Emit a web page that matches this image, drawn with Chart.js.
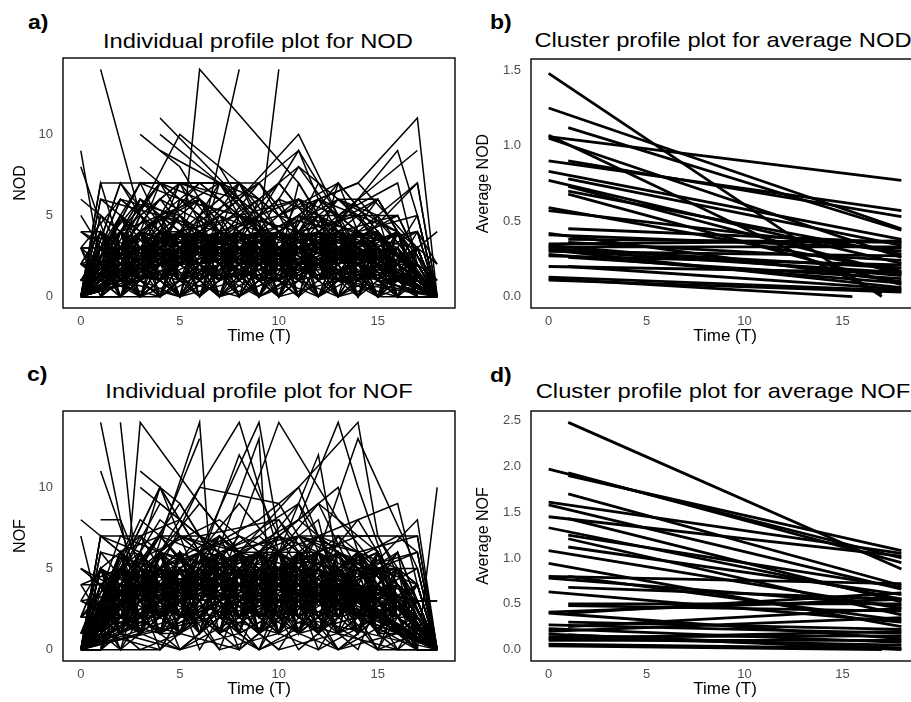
<!DOCTYPE html>
<html><head><meta charset="utf-8">
<script src="https://cdn.jsdelivr.net/npm/chart.js@4/dist/chart.umd.min.js"></script>
<style>
html,body{margin:0;padding:0;background:#fff;width:911px;height:702px;overflow:hidden;position:relative;font-family:"Liberation Sans",Arial,sans-serif;}
canvas{position:absolute;}
.lab{position:absolute;font-weight:bold;font-size:20px;line-height:20px;transform:scaleX(1.15);transform-origin:left top;color:#000;}
.ttl{position:absolute;width:600px;text-align:center;font-size:21px;line-height:21px;transform:scaleX(1.13);color:#000;white-space:nowrap;}
</style></head>
<body>
<div class="lab" style="left:28px;top:12px;">a)</div>
<div class="lab" style="left:490px;top:12px;">b)</div>
<div class="lab" style="left:27px;top:364px;">c)</div>
<div class="lab" style="left:490px;top:365px;">d)</div>
<div class="ttl" style="left:-42px;top:30px;">Individual profile plot for NOD</div>
<div class="ttl" style="left:423px;top:29px;">Cluster profile plot for average NOD</div>
<div class="ttl" style="left:-41px;top:380px;">Individual profile plot for NOF</div>
<div class="ttl" style="left:423px;top:380px;">Cluster profile plot for average NOF</div>
<canvas id="ca" width="458" height="347" style="left:0;top:0;"></canvas>
<canvas id="cb" width="470" height="347" style="left:455px;top:0;"></canvas>
<canvas id="cc" width="458" height="350" style="left:0;top:350px;"></canvas>
<canvas id="cd" width="470" height="350" style="left:455px;top:350px;"></canvas>
<script>
// ---- tick values and labels ----
const timeTicks = [0, 5, 10, 15];
const timeTickLabels = ['0', '5', '10', '15'];
const countTicks = [0, 5, 10];
const countTickLabels = ['0', '5', '10'];
const avgNodTicks = [0, 0.5, 1, 1.5];
const avgNodTickLabels = ['0.0', '0.5', '1.0', '1.5'];
const avgNofTicks = [0, 0.5, 1, 1.5, 2, 2.5];
const avgNofTickLabels = ['0.0', '0.5', '1.0', '1.5', '2.0', '2.5'];

// visit times for the fully sampled profiles below
const denseTimes = [0,1,2,3,4,5,6,7,8,9,10,11,12,13,14,15,16,17,18];

// ---- individual NOD profiles (irregular visits): flat [time, value, time, value, ...] ----
const nodProfiles = [
[0,0,2,3,4,5,7,2,10,4,13,1,18,0],
[0,9,1,2,3,4,6,3,9,5,12,2,18,0],
[0,8,2,1,5,4,8,3,11,2,15,3,18,0],
[1,14,3,5,6,2,9,3,14,1,18,0],
[0,0,1,7,9,7,11,3,15,2,18,0],
[0,4,1,4,3,2,5,5,8,2,12,3,18,0],
[0,3,1,0,4,3,7,1,10,2,16,1,18,0],
[3,10,5,8,7,4,10,2,13,5,18,0],
[4,11,8,6,10,3,12,4,16,2,18,0],
[0,0,5,2,6,14,11,7,13,3,18,0],
[0,0,2,2,6,3,8,14],
[0,0,4,3,7,5,9,4,10,14],
[0,6,2,4,4,7,6,3,9,2,12,4,18,0],
[0,5,1,3,3,6,5,4,8,5,11,3,14,2,18,0],
[0,2,1,1,2,5,4,3,7,6,10,2,13,3,18,0],
[0,1,2,4,3,1,6,4,9,1,12,5,15,2,18,0],
[0,0,1,3,3,7,5,2,8,4,11,1,14,4,18,0],
[0,0,2,6,5,3,7,7,10,3,12,2,16,3,18,0],
[0,0,3,4,4,7,6,5,9,2,13,4,17,3,18,0],
[0,0,1,5,4,2,5,6,8,3,11,5,14,3,18,0],
[3,8,5,6,8,5,11,4,13,7,15,4,18,0],
[4,10,6,8,9,5,11,9,12,6,15,3,18,0],
[4,9,7,7,9,6,12,3,16,9,17,5,18,0],
[0,0,2,3,5,10,7,8,10,5,14,7,17,11,18,0],
[5,7,8,6,11,10,13,5,15,7,17,9],
[0,0,2,2,4,1,6,3,8,2,10,3,12,1,14,2,16,1,18,0],
[0,0,1,2,3,3,5,1,7,4,9,2,11,3,13,1,15,2,18,0],
[0,0,2,1,4,4,6,2,8,5,10,1,12,2,14,3,17,1,18,0],
[0,0,1,1,3,2,5,5,7,2,9,3,11,2,13,4,16,2,18,0],
[0,0,2,4,4,2,6,6,8,1,10,4,12,3,15,1,18,0],
[0,0,3,1,5,3,7,1,9,6,11,2,13,3,15,5,18,0],
[0,0,1,4,2,2,4,5,6,1,9,3,12,6,14,2,18,0],
[1,0,3,5,5,2,8,7,10,2,12,4,16,2,18,4],
[0,0,2,5,3,2,6,4,9,1,11,6,13,2,17,7,18,0],
[0,0,4,6,6,3,7,7,9,3,11,5,14,4,17,5,18,0],
[0,0,2,7,4,4,6,2,8,4,10,6,12,1,15,6,18,0],
[0,3,2,6,5,5,7,3,10,7,12,4,15,2,18,0],
[0,0,3,3,5,7,7,2,9,5,11,3,13,6,16,4,18,2],
[0,0,1,6,3,4,6,6,8,3,11,4,14,5,18,0],
[0,0,2,3,4,6,7,4,10,1,13,3,16,5,18,0],
[1,3,3,1,5,5,7,3,9,4,11,2,14,6,17,2,18,1],
[0,0,3,6,5,4,8,2,10,6,12,5,15,1,18,0],
[0,0,4,4,6,6,8,4,10,2,12,7,14,3,18,0],
[0,0,3,3,6,7,8,5,11,4,13,2,16,4,18,0],
[0,0,1,7,2,3,4,2,7,4,10,3,13,6,18,0],
[0,0,2,3,3,6,5,3,7,4,9,7,11,4,14,3,18,0],
[2,0,4,3,6,2,8,5,10,3,12,6,14,4,16,3,18,0],
[0,0,2,5,4,2,7,3,9,5,11,6,13,3,17,4,18,2],
[0,0,3,2,4,5,6,4,8,6,10,2,11,7,13,3,18,0],
[0,0,1,3,2,6,4,4,7,2,9,4,11,3,15,4,18,0],
[0,0,4,5,5,3,7,4,8,7,10,4,12,3,13,7,15,4,18,0],
[0,0,3,6,6,4,9,7,11,4,14,5,16,1,18,0],
[0,0,2,7,3,5,5,7,7,4,9,5,12,2,15,4,18,0],
[1,0,2,4,4,7,6,5,8,7,10,3,12,5,17,2,18,0],
[0,0,1,6,4,5,7,4,10,5,13,4,15,6,18,0],
[0,0,3,7,5,6,6,7,8,5,11,6,13,4,16,5,18,0],
[0,0,1,3,5,7,7,7,9,4,12,5,15,2,18,0],
[0,0,2,4,6,6,8,4,10,6,11,8,14,3,18,0],
[0,0,4,7,6,6,8,3,10,2,12,6,16,4,18,1],
[7,8,9,4,11,6,13,5,16,7,17,2,18,0],
[0,0,9,7,11,9,12,7,14,5,18,0],
[0,0,5,3,9,6,11,8,13,6,15,6,18,0],
[0,0,3,7,8,7,10,5,13,7,14,4,18,0],
[0,0,6,3,10,4,13,6,15,5,17,7,18,0],
[0,0,3,4,7,7,10,4,12,6,14,7,17,3,18,0],
[0,0,2,3,5,6,8,5,10,7,12,4,15,6,18,0],
[0,0,4,4,5,7,7,6,10,3,12,5,16,5,18,0],
[2,0,4,2,5,6,8,3,10,4,12,2,16,4,18,0],
[0,0,3,2,5,4,6,1,9,3,10,0,12,4,15,1,18,0],
[0,1,2,4,5,0,7,3,8,1,11,4,13,0,16,3,18,0],
[0,0,1,3,4,1,6,4,9,0,11,3,14,1,15,4,18,0],
[0,2,3,0,4,4,7,1,10,3,12,1,13,4,17,0,18,0],
[0,0,2,0,5,3,8,4,9,1,12,3,14,0,16,4,18,0],
[0,3,1,1,3,4,6,0,8,3,11,1,13,3,16,0,18,0],
[0,0,4,4,5,1,8,2,10,4,13,3,15,0,17,3,18,0],
[0,1,3,3,6,2,7,4,9,2,10,4,14,2,16,1,18,0],
[0,0,2,3,3,0,6,3,9,4,12,0,14,3,17,1,18,0],
[0,2,1,4,4,2,5,4,8,0,11,2,12,4,15,3,18,0],
[0,0,1,1,5,4,7,0,10,2,11,4,14,2,17,4,18,0],
[0,4,2,2,4,0,7,2,8,4,10,2,13,1,16,2,18,0],
[0,0,3,4,4,2,6,3,9,1,12,2,15,4,16,0,18,0],
[0,1,2,2,5,2,6,4,8,2,11,3,13,4,17,2,18,0],
[0,0,1,4,3,2,7,3,10,1,12,3,14,4,16,2,18,0],
[0,3,3,3,5,0,8,3,9,2,11,0,14,3,15,2,18,0],
[0,0,2,4,4,3,6,2,8,4,10,3,13,2,16,3,18,0],
[0,2,4,1,5,3,7,4,9,0,13,3,14,1,17,2,18,0],
[0,0,1,2,2,4,5,1,7,3,10,2,12,4,15,1,18,0],
[0,1,3,4,6,3,8,1,11,4,12,2,15,3,16,4,18,0],
[0,0,4,3,6,1,7,3,9,4,11,1,13,3,17,1,18,0],
[0,3,2,1,3,3,5,2,8,3,10,4,12,1,14,2,18,0],
[0,0,2,2,4,4,7,2,9,3,12,2,13,4,16,1,18,0],
[0,1,1,3,4,0,6,2,10,3,11,1,14,4,15,2,18,0],
[0,0,3,1,5,2,6,3,8,4,9,2,13,2,15,3,18,0],
[0,2,2,3,4,3,5,1,7,2,10,3,12,2,14,4,18,0],
[0,0,1,4,2,1,6,3,8,2,11,3,13,1,16,4,18,0],
[0,4,3,2,6,4,8,3,10,1,12,3,15,2,17,1,18,0],
[0,0,2,1,3,4,5,3,9,2,11,4,14,3,16,2,18,0],
[0,1,4,2,6,3,7,1,9,4,12,1,13,3,17,2,18,0],
[0,0,3,3,4,4,8,3,10,2,11,3,15,4,16,1,18,0],
[0,2,1,2,5,4,7,3,9,3,12,4,14,1,17,3,18,0],
[0,0,2,4,3,3,6,4,7,2,10,4,13,2,15,3,18,0],
[0,3,4,3,5,2,8,4,11,2,13,3,14,2,16,3,18,0],
[0,0,1,1,4,3,6,2,9,4,10,1,12,3,17,2,18,0],
[0,1,2,3,5,2,7,4,8,3,11,4,14,2,15,4,18,0],
[0,0,3,2,6,4,9,1,10,3,13,4,16,2,17,3,18,0],
[0,2,1,4,3,1,4,3,7,4,9,2,12,2,15,3,18,0],
[0,0,2,2,5,3,8,3,11,3,12,1,14,3,16,2,18,0],
[0,1,3,1,4,2,6,4,8,2,10,3,13,3,17,4,18,0]
];

// ---- NOD profiles visited at times in denseTimes (null = no visit) ----
const nodDenseProfiles = [
[0,2,0,3,1,0,2,4,1,0,3,2,0,1,3,0,2,1,0],
[0,1,3,2,0,4,1,3,2,1,0,2,4,1,0,3,1,2,0],
[0,3,1,0,2,3,4,2,0,1,2,3,1,4,2,0,1,3,0],
[0,0,2,4,3,1,2,0,3,4,1,2,3,0,1,2,4,0,0],
[0,2,4,1,0,3,2,1,4,2,3,0,2,1,3,1,0,2,0],
[0,1,0,2,4,2,3,4,1,3,0,4,1,2,0,2,3,1,0],
[0,4,2,3,1,4,0,2,3,0,2,1,3,2,4,1,2,0,0],
[0,0,1,3,2,0,4,3,2,4,1,3,0,3,2,4,1,1,0],
[0,3,2,0,3,2,1,0,4,1,2,4,2,0,1,3,0,2,0],
[0,1,4,2,1,3,2,3,0,2,4,1,3,4,0,2,2,0,0],
[0,2,1,4,0,1,3,1,2,3,1,0,4,2,3,0,3,1,0],
[0,0,3,1,4,2,4,2,3,0,3,2,1,3,2,1,0,3,0],
[0,2,0,2,3,4,1,0,1,2,4,3,0,1,4,2,1,0,0],
[0,1,2,0,2,1,0,4,3,1,2,0,2,4,1,3,2,2,0],
[0,3,4,3,0,2,3,1,4,2,0,1,3,0,2,1,4,0,0],
[0,0,1,4,2,3,0,3,1,4,3,2,1,2,0,4,1,1,0],
[0,4,0,1,3,0,2,4,2,1,1,4,2,3,1,0,2,3,0],
[0,1,3,2,4,1,4,0,3,3,2,0,4,1,3,2,0,1,0],
[0,2,2,0,1,4,1,2,0,4,0,3,2,0,4,1,3,0,0],
[0,0,4,3,2,2,3,3,4,0,2,1,0,3,1,3,1,2,0],
[0,3,1,1,0,3,0,1,2,2,4,2,3,2,0,2,4,1,0],
[0,1,0,4,3,0,4,2,1,3,1,4,1,4,2,0,2,0,0],
[0,2,3,2,1,2,2,4,3,0,3,0,2,1,3,4,0,3,0],
[0,0,2,1,4,4,1,3,0,2,2,3,4,0,1,2,3,1,0],
[0,4,1,3,2,1,3,0,2,1,0,2,0,2,4,1,1,2,0],
[0,1,4,0,0,3,2,1,4,3,4,1,3,3,0,3,2,0,0],
[0,3,0,2,3,2,4,2,1,2,1,3,1,0,2,0,4,1,0],
[0,2,2,4,1,0,1,4,3,4,2,0,2,4,3,2,0,2,0],
[0,0,3,3,4,1,0,1,2,0,3,4,0,1,1,4,2,0,0],
[0,1,1,0,2,4,3,3,0,1,0,2,4,2,0,1,3,1,0],
[0,2,5,3,1,4,2,5,3,1,4,0,2,5,1,3,2,4,0],
[0,4,2,5,3,0,5,2,4,3,1,5,3,1,4,2,0,3,0],
[0,1,3,4,5,2,3,1,5,4,2,3,5,2,3,5,1,2,0],
[0,5,3,1,4,3,1,4,2,5,3,1,4,3,2,1,3,5,0],
[0,null,3,null,1,null,4,null,2,null,3,null,1,null,4,null,2,null,0],
[0,2,null,4,null,1,null,3,null,0,null,4,null,2,null,3,null,1,0],
[0,null,null,2,null,null,4,null,null,1,null,null,3,null,null,4,null,null,0],
[0,null,1,null,3,null,0,null,4,null,2,null,4,null,1,null,3,null,0],
[0,3,null,0,null,2,null,4,null,3,null,1,null,3,null,0,null,2,0],
[0,null,2,null,null,4,null,null,1,null,null,3,null,null,2,null,null,1,0],
[0,1,null,null,3,null,null,0,null,null,4,null,null,2,null,null,4,null,0],
[0,null,4,null,2,null,1,null,3,null,0,null,2,null,4,null,1,null,0],
[0,2,null,3,null,4,null,1,null,2,null,0,null,4,null,1,null,3,0],
[0,null,0,null,4,null,3,null,0,null,4,null,1,null,2,null,3,null,0],
[0,null,1,null,null,0,null,2,null,null,1,null,0,null,null,2,null,1,0],
[0,null,null,1,null,0,null,null,2,null,0,null,null,1,null,2,null,null,0],
[0,1,null,null,0,null,2,null,null,0,null,1,null,null,2,null,null,0,0],
[0,null,2,null,null,1,null,null,0,null,2,null,null,1,null,null,0,null,0],
[0,null,null,0,null,1,null,null,3,null,null,1,null,0,null,null,2,null,0],
[0,2,null,null,1,null,null,3,null,0,null,null,2,null,null,0,null,1,0],
[0,null,1,null,null,3,null,0,null,null,1,null,null,3,null,0,null,null,0],
[0,null,null,2,null,0,null,null,1,null,null,3,null,0,null,null,1,null,0]
];

// ---- individual NOF profiles (irregular visits): flat [time, value, time, value, ...] ----
const nofProfiles = [
[0,8,2,6,4,3,7,5,10,2,14,4,18,0],
[0,7,1,2,3,5,6,4,9,6,12,3,18,0],
[0,5,1,4,3,6,5,2,8,5,11,3,15,2,18,0],
[0,4,2,5,4,2,7,6,9,3,13,5,18,0],
[0,3,1,5,3,3,6,6,8,2,11,4,16,3,18,0],
[0,2,1,2,3,4,5,6,8,4,10,5,14,2,18,0],
[1,8,2,8,3,5,5,3,8,2,12,4,18,0],
[1,14,2.5,5,5,3,8,6,11,2,18,0],
[1,11,3,4,6,2,9,5,13,3,18,0],
[2,14,2.7,6,5,4,7,7,10,3,14,4,18,0],
[0,0,2.5,7,3,14,6,9,8,6,11,5,14,2,18,0],
[3,11,5,9,7,5,10,6,12,3,16,2,18,0],
[3,10,5,8,7,4,9,6,13,5,18,0],
[0,0,2,3,4,7,6,13],
[0,0,3,3,6,14,6.5,6,9,4,12,6,18,0],
[0,0,2,3,4,6,8,14,10,6,11,4,18,0],
[0,0,4,4,6,6,9,14,10,7,13,4,18,0],
[0,0,5,2,8,12,10,7,12,5,15,3,18,0],
[0,0,6,3,9,13,9.5,4,11,5,18,0],
[3,2,7,4,10,14,13,8,15,5,18,0],
[0,0,4,5,6,10,10,9,12,5,16,2,18,0],
[0,0,4,10,5,8,7,6,9,3,12,12,13,5,18,0],
[0,0,11,8,13,14,14,10,16,3,18,0],
[0,0,8,6,11,10,14,14,15,7,17,3,18,0],
[0,0,7,4,10,7,13,10,14,6,17,7,18,0],
[0,0,6,5,11,9,12,6,14,13,17,5,18,0],
[0,0,9,3,12,7,16,9,17,4,18,0],
[0,0,10,3,13,5,17,0,18,10],
[0,0,4,5,7,4,10,6,12,8,13,3,17,8,18,0],
[0,0,5,7,7,6,11,7,15,7,18,0],
[0,0,3,8,4,7,6,4,8,5,11,3,14,6,18,0],
[0,0,4,10,6,4,8,7,10,5,12,7,14,2,18,0],
[0,0,2,4,4,8,6,6,8,9,10,6,12,9,14,4,18,0],
[0,0,1,7,3,6,5,3,7,7,9,5,11,7,13,6,16,4,18,0],
[0,0,3,7,5,5,7,7,9,5,11,7,13,4,16,5,18,0],
[0,0,2,6,4,7,6,6,8,7,10,6,12,7,14,6,18,0],
[0,0,1,7,3,5,5,7,7,6,9,7,11,5,13,7,15,5,18,0],
[0,0,4,7,6,7,8,6,10,7,12,6,14,7,17,7,18,0],
[0,0,2,4,5,2,8,4,10,2,13,4,17,3,18,3],
[1,0,2,5,4,4,6,7,8,5,10,4,12,7,14,5,17,5,18,0],
[0,0,1,3,4,4,7,4,9,5,12,3,14,3,18,3],
[0,0,6,9,8,6,10,8,12,4,16,5,18,0],
[0,0,5,9,7,5,9,6,11,9,14,3,18,0],
[0,0,3,6,4,10,6,6,9,8,11,10,13,4,18,0],
[0,0,2,5,7,8,9,6,12,9,15,6,18,0],
[0,0,4,9,6,7,10,8,12,5,14,8,16,4,18,0],
[0,0,1,5,3,7,5,8,8,5,11,8,13,6,17,4,18,0],
[0,0,2,6,5,3,6,6,9,4,10,7,12,5,13,7,15,3,18,0],
[0,0,3,5,4,7,6,4,7,7,9,5,11,5,12,7,14,5,18,0],
[0,0,1,7,3,7,4,5,6,6,10,5,11,7,14,5,17,6,18,0],
[0,0,4,6,5,7,8,6,10,6,12,6,13,5,16,7,17,6,18,0],
[0,0,2,4,4,7,7,3,9,6,11,4,14,4,18,0],
[0,0,3,5,5,7,8,4,10,7,12,3,16,6,18,0],
[0,0,1,6,4,5,7,7,9,2,12,4,15,6,18,0],
[0,0,2,7,4,6,7,5,9,6,11,7,14,6,16,5,18,0],
[0,0,3,4,5,6,6,2,9,5,10,1,12,6,15,2,18,0],
[0,2,2,5,5,1,7,4,8,2,11,6,13,1,16,4,18,0],
[0,0,1,4,4,2,6,6,9,1,11,4,14,2,15,6,18,0],
[0,3,3,1,4,6,7,2,10,4,12,2,13,5,17,1,18,0],
[0,0,2,1,5,4,8,6,9,2,12,4,14,1,16,5,18,0],
[0,4,1,2,3,5,6,1,8,4,11,2,13,4,16,1,18,0],
[0,0,4,5,5,2,8,3,10,6,13,4,15,1,17,4,18,0],
[0,1,3,4,6,3,7,6,9,3,10,5,14,3,16,2,18,0],
[0,0,2,4,3,1,6,4,9,6,12,1,14,4,17,2,18,0],
[0,2,1,5,4,3,5,6,8,1,11,3,12,6,15,4,18,0],
[0,0,1,2,5,5,7,1,10,3,11,6,14,3,17,5,18,0],
[0,5,2,3,4,1,7,3,8,6,10,3,13,2,16,3,18,0],
[0,0,3,6,4,3,6,4,9,2,12,3,15,5,16,1,18,0],
[0,1,2,3,5,3,6,5,8,3,11,4,13,6,17,3,18,0],
[0,0,1,6,3,3,7,4,10,2,12,4,14,5,16,3,18,0],
[0,4,3,4,5,1,8,4,9,3,11,1,14,4,15,3,18,0],
[0,0,2,5,4,4,6,3,8,6,10,4,13,3,16,4,18,0],
[0,2,4,2,5,4,7,5,9,1,13,4,14,2,17,3,18,0],
[0,0,1,3,2,5,5,2,7,4,10,3,12,6,15,2,18,0],
[0,1,3,5,6,4,8,2,11,5,12,3,15,4,16,5,18,0],
[0,0,4,4,6,2,7,4,9,6,11,2,13,4,17,2,18,0],
[0,3,2,2,3,4,5,3,8,4,10,6,12,2,14,3,18,0],
[0,0,2,3,4,5,7,3,9,4,12,3,13,5,16,2,18,0],
[0,1,1,4,4,1,6,3,10,4,11,2,14,6,15,3,18,0],
[0,0,3,2,5,3,6,4,8,5,9,3,13,3,15,4,18,0],
[0,2,2,4,4,4,5,2,7,3,10,4,12,3,14,5,18,0],
[0,0,1,5,2,2,6,4,8,3,11,4,13,2,16,6,18,0],
[0,5,3,3,6,5,8,4,10,2,12,4,15,3,17,2,18,0],
[0,0,2,2,3,5,5,4,9,3,11,6,14,4,16,3,18,0],
[0,1,4,3,6,4,7,2,9,6,12,2,13,4,17,3,18,0],
[0,0,3,4,4,6,8,4,10,3,11,4,15,6,16,2,18,0],
[0,2,1,3,5,5,7,4,9,4,12,5,14,2,17,4,18,0],
[0,0,2,5,3,4,6,6,7,3,10,5,13,3,15,4,18,0],
[0,3,4,4,5,3,8,5,11,3,13,4,14,3,16,4,18,0],
[0,0,1,2,4,4,6,3,9,6,10,2,12,4,17,3,18,0],
[0,1,2,4,5,3,7,6,8,4,11,5,14,3,15,6,18,0],
[0,0,3,3,6,6,9,2,10,4,13,6,16,3,17,4,18,0],
[0,2,1,5,3,2,4,4,7,5,9,3,12,3,15,4,18,0],
[0,0,2,3,5,4,8,4,11,4,12,2,14,4,16,3,18,0],
[0,1,3,2,4,3,6,5,8,3,10,4,13,4,17,6,18,0]
];

// ---- NOF profiles visited at times in denseTimes (null = no visit) ----
const nofDenseProfiles = [
[0,2,4,3,5,1,4,6,2,3,5,1,4,2,6,3,1,2,0],
[0,4,1,5,2,6,3,1,5,4,2,6,3,5,1,4,2,3,0],
[0,1,3,6,4,2,5,3,6,1,4,3,5,2,4,6,3,1,0],
[0,3,5,2,1,4,6,2,3,5,6,2,1,4,3,2,5,4,0],
[0,5,2,4,6,3,1,5,4,2,3,5,6,3,2,5,1,2,0],
[0,2,6,1,3,5,4,3,1,6,2,4,3,6,5,1,4,3,0],
[0,1,4,5,2,6,2,5,4,3,1,5,2,1,6,3,2,1,0],
[0,3,2,3,5,1,5,4,6,2,5,1,4,5,2,4,6,0,0],
[0,4,5,2,4,3,6,1,3,5,4,6,2,3,4,1,3,2,0],
[0,0,3,4,1,5,3,6,2,4,6,3,5,4,1,5,2,4,0],
[0,2,1,5,3,4,2,4,5,1,3,2,6,2,5,3,4,1,0],
[0,5,4,1,6,2,5,3,1,6,4,5,1,3,6,2,1,3,0],
[0,1,5,3,2,4,1,6,3,2,5,4,3,6,1,4,5,2,0],
[0,3,3,6,4,1,4,2,5,4,1,3,5,2,4,6,2,0,0],
[0,2,6,2,5,3,6,4,2,5,3,6,4,1,3,2,4,3,0],
[0,4,2,4,1,6,3,5,4,1,6,2,1,5,2,5,3,1,0],
[0,1,4,2,6,4,2,1,6,3,2,5,6,4,5,3,1,2,0],
[0,3,1,5,3,2,5,6,1,5,4,1,2,3,6,1,5,4,0],
[0,0,5,3,4,5,1,3,5,2,6,4,5,1,2,4,2,1,0],
[0,2,3,1,5,3,4,2,4,6,1,3,4,5,3,5,3,2,0],
[0,5,1,4,2,4,6,5,3,1,5,2,3,6,4,2,1,3,0],
[0,1,2,6,3,1,3,4,6,4,3,6,1,2,5,3,4,1,0],
[0,3,6,3,1,5,2,1,2,5,2,3,6,4,2,6,2,2,0],
[0,4,4,2,6,2,5,3,4,3,5,1,4,3,1,4,5,0,0],
[0,2,0,4,3,6,4,6,2,1,4,5,2,5,4,2,3,1,0],
[0,1,3,5,1,3,1,2,5,6,3,4,6,2,3,1,1,2,0],
[0,3,5,1,4,4,6,5,3,2,6,2,3,1,6,5,2,3,0],
[0,0,2,3,6,2,3,4,1,4,1,6,4,5,2,3,4,1,0],
[0,4,1,2,3,5,2,1,6,5,2,3,5,4,4,2,1,2,0],
[0,2,4,6,2,1,5,6,4,3,5,4,1,6,3,4,2,0,0],
[0,1,6,4,5,3,1,3,2,6,4,2,5,3,5,1,3,2,0],
[0,5,3,2,1,6,4,2,5,2,1,5,3,2,1,6,2,1,0],
[0,3,2,5,4,2,6,5,3,4,6,1,6,4,3,3,5,3,0],
[0,2,5,1,6,4,3,1,4,5,3,4,2,5,6,2,1,0,0],
[0,0,1,4,2,5,2,4,6,1,2,6,4,3,2,5,4,2,0],
[0,1,0,2,1,3,0,2,1,0,3,1,2,0,1,2,0,1,0],
[0,0,2,1,3,0,1,3,2,1,0,2,3,1,0,3,1,0,0],
[0,2,1,0,0,2,3,1,0,3,2,0,1,3,2,0,2,1,0],
[0,1,3,2,1,1,2,0,3,2,1,3,0,2,3,1,0,2,0],
[0,3,0,1,2,3,1,2,1,0,2,1,3,1,2,0,3,0,0],
[0,0,1,3,0,2,2,3,0,1,3,2,1,0,1,2,1,1,0],
[0,null,4,null,2,null,6,null,3,null,5,null,1,null,6,null,3,null,0],
[0,3,null,5,null,2,null,6,null,4,null,1,null,5,null,2,null,4,0],
[0,null,null,5,null,null,2,null,null,6,null,null,3,null,null,5,null,null,0],
[0,null,2,null,5,null,3,null,6,null,1,null,4,null,6,null,2,null,0],
[0,4,null,1,null,5,null,3,null,6,null,4,null,2,null,5,null,1,0],
[0,null,5,null,null,3,null,null,6,null,null,2,null,null,4,null,null,3,0],
[0,2,null,null,4,null,null,6,null,null,3,null,null,5,null,null,2,null,0],
[0,null,3,null,6,null,1,null,4,null,5,null,6,null,2,null,4,null,0],
[0,1,null,4,null,6,null,2,null,5,null,3,null,6,null,1,null,2,0],
[0,null,6,null,3,null,5,null,2,null,6,null,4,null,3,null,5,null,0],
[0,null,1,null,null,0,null,2,null,null,1,null,0,null,null,2,null,1,0],
[0,null,null,1,null,0,null,null,2,null,0,null,null,1,null,2,null,null,0],
[0,1,null,null,0,null,2,null,null,0,null,1,null,null,2,null,null,0,0],
[0,null,2,null,null,1,null,null,0,null,2,null,null,1,null,null,0,null,0],
[0,null,null,0,null,1,null,null,3,null,null,1,null,0,null,null,2,null,0],
[0,2,null,null,1,null,null,3,null,0,null,null,2,null,null,0,null,1,0],
[0,null,1,null,null,3,null,0,null,null,1,null,null,3,null,0,null,null,0],
[0,null,null,2,null,0,null,null,1,null,null,3,null,0,null,null,1,null,0]
];

// ---- cluster mean profiles: [start time, start value, end time, end value] ----
const nodClusters = [
[0,1.48,17,0.0],[0,1.25,18,0.45],[1,1.12,18,0.44],[0,1.06,18,0.77],
[0,1.07,17,0.02],[0,1.05,18,0.26],[0,0.90,18,0.57],[1,0.90,18,0.53],
[0,0.83,18,0.38],[0,0.77,18,0.22],[1,0.78,18,0.34],[1,0.73,18,0.15],
[1,0.70,18,0.28],[1,0.68,18,0.08],[0,0.59,18,0.17],[0,0.57,18,0.30],
[1,0.45,18,0.36],[0,0.42,18,0.10],[0,0.41,18,0.32],[1,0.38,18,0.36],
[1,0.36,18,0.24],[0,0.35,18,0.37],[0,0.34,18,0.14],[0,0.33,18,0.33],
[0,0.32,18,0.19],[0,0.31,18,0.06],[0,0.30,18,0.27],[1,0.30,18,0.16],
[0,0.28,18,0.09],[0,0.27,18,0.21],[1,0.26,18,0.12],[0,0.20,18,0.16],
[1,0.20,18,0.05],[0,0.13,18,0.04],[0,0.12,15.5,0.0],[0,0.11,18,0.03]
];
const nofClusters = [
[1,2.48,18,0.88],[0,1.97,18,1.00],[1,1.93,18,0.95],[1,1.90,18,1.08],
[1,1.70,18,0.70],[0,1.61,18,1.05],[0,1.58,18,0.66],[0,1.45,18,1.02],
[1,1.43,18,0.52],[0,1.33,18,0.55],[1,1.25,18,0.68],[1,1.21,18,0.38],
[1,1.12,18,0.60],[0,1.08,18,0.45],[0,0.94,18,0.25],[0,0.80,18,0.72],
[1,0.80,18,0.32],[0,0.78,18,0.48],[1,0.68,18,0.55],[0,0.63,18,0.30],
[1,0.50,18,0.50],[1,0.48,18,0.42],[0,0.41,18,0.55],[0,0.40,18,0.12],
[1,0.40,18,0.62],[1,0.30,18,0.22],[0,0.27,18,0.18],[1,0.25,18,0.45],
[0,0.23,18,0.08],[0,0.20,18,0.35],[0,0.17,18,0.02],[1,0.16,18,0.00],
[0,0.14,18,0.15],[0,0.12,18,0.20],[1,0.12,18,0.05],[0,0.10,18,0.10],
[0,0.06,18,0.01],[0,0.04,17,0.0]
];

const F = '"Liberation Sans", Arial, sans-serif';

const boxPlugin = {
  id: 'panelBox',
  afterDatasetsDraw(chart) {
    const { ctx, chartArea: a } = chart;
    ctx.save();
    ctx.strokeStyle = '#000';
    ctx.lineWidth = 1.4;
    ctx.strokeRect(a.left, a.top, a.right - a.left, a.bottom - a.top);
    ctx.restore();
  }
};

function flatToPoints(flat) {
  const pts = [];
  for (let i = 0; i < flat.length; i += 2) pts.push({ x: flat[i], y: flat[i + 1] });
  return pts;
}
function denseToPoints(vals) {
  return denseTimes.map((t, i) => ({ x: t, y: vals[i] })).filter(p => p.y !== null);
}

function makeChart(id, pointSets, o) {
  new Chart(document.getElementById(id), {
    type: 'line',
    data: {
      datasets: pointSets.map(pts => ({
        data: pts,
        borderColor: '#000',
        borderWidth: o.lw,
        pointRadius: 0,
        fill: false,
        tension: 0,
        borderCapStyle: 'butt'
      }))
    },
    options: {
      responsive: false,
      animation: false,
      devicePixelRatio: 1,
      events: [],
      layout: { padding: { left: o.padLeft, right: o.padRight, top: o.padTop, bottom: 0 } },
      plugins: { legend: { display: false }, tooltip: { enabled: false }, title: { display: false } },
      scales: {
        x: {
          type: 'linear', min: -0.9, max: 18.9,
          afterBuildTicks: s => { s.ticks = timeTicks.map(v => ({ value: v })); },
          afterFit: s => { s.height = 39; },
          grid: { display: false, drawTicks: false },
          border: { display: false },
          ticks: { autoSkip: false, maxRotation: 0, padding: 6, color: '#4d4d4d',
                   font: { family: F, size: 13 }, callback: (v, i) => timeTickLabels[i] },
          title: { display: true, text: 'Time (T)', color: '#000', font: { family: F, size: 17 }, padding: 0 }
        },
        y: {
          type: 'linear', min: o.yMin, max: o.yMax,
          afterBuildTicks: s => { s.ticks = o.yTicks.map(v => ({ value: v })); },
          afterFit: s => { s.width = o.yWidth; },
          grid: { display: false, drawTicks: false },
          border: { display: false },
          ticks: { autoSkip: false, padding: 10, color: '#4d4d4d',
                   font: { family: F, size: 13 }, callback: (v, i) => o.yLabels[i] },
          title: { display: true, text: o.yTitle, color: '#000', font: { family: F, size: 16 }, padding: 0 }
        }
      }
    },
    plugins: [boxPlugin]
  });
}

const nodSets = nodProfiles.map(flatToPoints).concat(nodDenseProfiles.map(denseToPoints));
const nofSets = nofProfiles.map(flatToPoints).concat(nofDenseProfiles.map(denseToPoints));

makeChart('ca', nodSets, { lw: 1.5, yMin: -0.7, yMax: 14.7, yTicks: countTicks, yLabels: countTickLabels,
  yTitle: 'NOD', padLeft: 11, yWidth: 52, padRight: 3, padTop: 58 });
makeChart('cb', nodClusters.map(flatToPoints), { lw: 2.8, yMin: -0.075, yMax: 1.575, yTicks: avgNodTicks, yLabels: avgNodTickLabels,
  yTitle: 'Average NOD', padLeft: 19, yWidth: 57, padRight: 6, padTop: 59 });
makeChart('cc', nofSets, { lw: 1.5, yMin: -0.7, yMax: 14.7, yTicks: countTicks, yLabels: countTickLabels,
  yTitle: 'NOF', padLeft: 11, yWidth: 52, padRight: 3, padTop: 61 });
makeChart('cd', nofClusters.map(flatToPoints), { lw: 2.8, yMin: -0.124, yMax: 2.604, yTicks: avgNofTicks, yLabels: avgNofTickLabels,
  yTitle: 'Average NOF', padLeft: 19, yWidth: 57, padRight: 6, padTop: 61 });
</script>
</body></html>
